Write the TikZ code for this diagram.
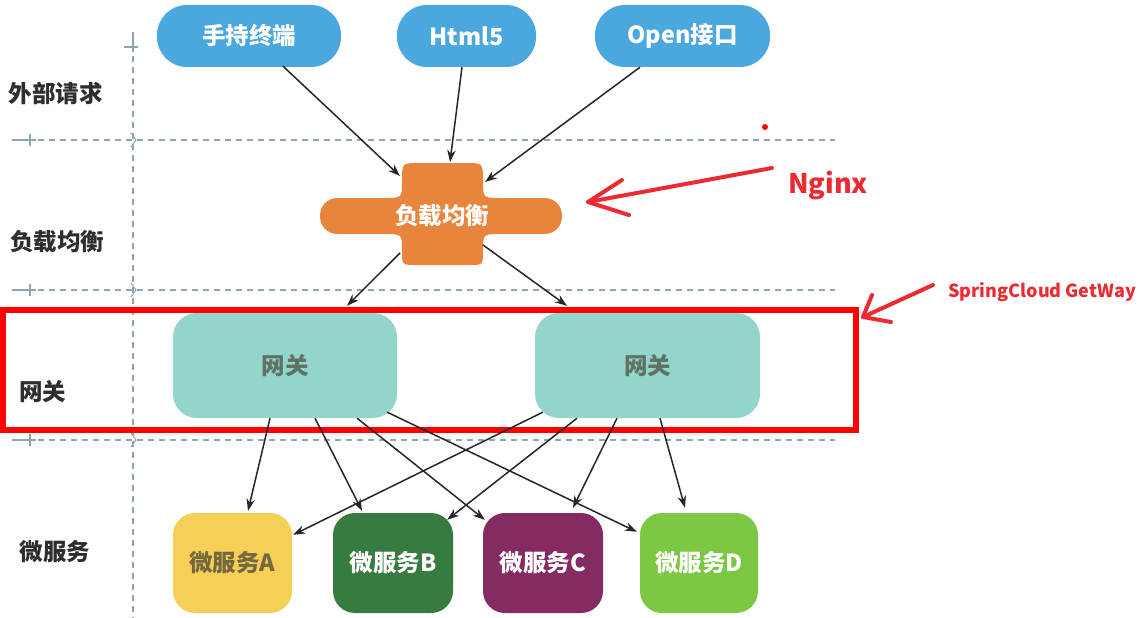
\documentclass[tikz,border=0pt]{standalone}
\usepackage{fontspec}
\setmainfont{Noto Sans CJK SC}
\usetikzlibrary{arrows.meta,calc}
\definecolor{pillblue}{HTML}{4AA8DE}
\definecolor{lborange}{HTML}{E8843C}
\definecolor{gwteal}{HTML}{93D5CA}
\definecolor{gwtext}{HTML}{5E7265}
\definecolor{msa}{HTML}{F6D056}
\definecolor{msatext}{HTML}{76683E}
\definecolor{msb}{HTML}{367B3F}
\definecolor{msc}{HTML}{852B63}
\definecolor{msd}{HTML}{7DC843}
\definecolor{dashgray}{HTML}{8FA5B4}
\definecolor{annred}{HTML}{EC2A32}
\definecolor{labeltext}{HTML}{2E2E2E}
\begin{document}
\begin{tikzpicture}[x=1pt,y=-1pt,
  txt/.style={font=\fontsize{23.5}{23.5}\selectfont\bfseries},
  pillbox/.style={txt, shape=rectangle, fill=pillblue, rounded corners=30pt, minimum height=62pt, inner sep=0pt, text=white},
  gwbox/.style={txt, shape=rectangle, fill=gwteal, rounded corners=24pt, minimum width=224pt, minimum height=105pt, inner sep=0pt, text=gwtext},
  msbox/.style={txt, shape=rectangle, rounded corners=22pt, minimum width=119pt, minimum height=100pt, inner sep=0pt, text=white},
  sidelabel/.style={txt, text=labeltext},
  arr/.style={-{Stealth[length=12pt,width=8.5pt]}, line width=1.5pt, draw=black!85},
  guide/.style={draw=dashgray, line width=1.4pt, dash pattern=on 6pt off 5pt},
  guidemark/.style={draw=dashgray, line width=1.6pt},
  annot/.style={draw=annred, line width=4pt, line cap=round, line join=round},
  frame/.style={draw=red, line width=5.5pt, outer sep=0pt, inner sep=0pt}
]
\useasboundingbox (0,0) rectangle (1143,618);
\fill[white] (0,0) rectangle (1143,618);

% guide lines
\draw[guide] (133,56) -- (133,618);
\draw[guidemark] (133,32) -- (133,52);
\draw[guidemark] (124,47) -- (138,47);
\foreach \yy in {140,290,440}{
  \draw[guide] (38,\yy) -- (835,\yy);
  \draw[guidemark] (12,\yy) -- (36,\yy);
  \draw[guidemark] (30,\yy-6) -- (30,\yy+6);
  \draw[draw=dashgray, line width=1pt] (131,\yy-7) -- (136,\yy) -- (131,\yy+7);
}

% side labels
\node[sidelabel] (l1) at (56,93) {外部请求};
\node[sidelabel] (l2) at (57,242) {负载均衡};
\node[sidelabel] (l3) at (43,392) {网关};
\node[sidelabel] (l4) at (55,552) {微服务};

% top nodes
\node[pillbox, minimum width=184pt] (hand) at (249,36) {手持终端};
\node[pillbox, minimum width=139pt] (h5) at (466.5,36) {Html5};
\node[pillbox, minimum width=175pt] (open) at (682.5,36) {Open接口};

% load balancer shape
\fill[lborange] (420,163) -- (465,163) .. controls (483,163) .. (483,181)
  .. controls (483,198) .. (500,198) -- (544,198)
  .. controls (568,198) and (568,234) .. (544,234)
  -- (500,234) .. controls (483,234) .. (483,251)
  .. controls (483,265) .. (469,265) -- (416,265)
  .. controls (402,265) .. (402,251)
  .. controls (402,234) .. (385,234) -- (338,234)
  .. controls (314,234) and (314,198) .. (338,198)
  -- (385,198) .. controls (402,198) .. (402,181)
  .. controls (402,163) .. (420,163) -- cycle;
\node[txt, text=white] (lb) at (442,216) {负载均衡};

% gateways
\node[gwbox] (gw1) at (285,365.5) {网关};
\node[gwbox, minimum width=225pt] (gw2) at (647.5,365.5) {网关};

% micro services
\node[msbox, fill=msa, text=msatext] (msA) at (232.5,563) {微服务A};
\node[msbox, fill=msb, minimum width=120pt] (msB) at (393,563) {微服务B};
\node[msbox, fill=msc, minimum width=120pt] (msC) at (543,563) {微服务C};
\node[msbox, fill=msd, minimum width=118pt] (msD) at (699,563) {微服务D};

% red frame
\node[frame, minimum width=853pt, minimum height=120pt] (gwframe) at (429.5,370) {};

% arrows top
\draw[arr] ($(hand.south)+(34,-1)$) -- ($(lb.center)+(-42,-40)$);
\draw[arr] ($(h5.south)+(-4.5,0)$) -- ($(lb.center)+(8,-54)$);
\draw[arr] ($(open.south)+(-42.5,0)$) -- ($(lb.center)+(43,-34)$);
\draw[arr] ($(lb.center)+(-42,37)$) -- ($(gw1.north)+(62,-7)$);
\draw[arr] ($(lb.center)+(41,29)$) -- ($(gw2.north)+(-80.5,-7)$);

% arrows bottom
\draw[arr] ($(gw1.south)+(-15,0)$) -- ($(msA.north)+(15.5,-2)$);
\draw[arr] ($(gw1.south)+(30,0)$) -- ($(msB.north)+(-31,-2)$);
\draw[arr] ($(gw1.south)+(72,0)$) -- ($(msC.north west)+(2,7)$);
\draw[arr] ($(gw1.south east)+(-10,-6)$) -- ($(msD.north west)+(-3,19)$);
\draw[arr] ($(gw2.south west)+(8,-6)$) -- ($(msA.north east)+(1,22)$);
\draw[arr] ($(gw2.south)+(-70.5,0)$) -- ($(msB.north east)+(-6,7)$);
\draw[arr] ($(gw2.south)+(-30.5,0)$) -- ($(msC.north)+(30,-5)$);
\draw[arr] ($(gw2.south)+(12.5,0)$) -- ($(msD.north)+(-14,-5)$);

% annotations
\node[font=\fontsize{27}{27}\selectfont\bfseries, text=annred] (nginx) at (828,186) {Nginx};
\coordinate (ntip) at ($(lb.center)+(146,-14)$);
\coordinate (nstart) at (772,168);
\draw[annot] (nstart) -- (ntip);
\draw[annot] ($(ntip)+(34,-22)$) -- (ntip) -- ($(ntip)+(41,13)$);

\node[font=\fontsize{18}{18}\selectfont\bfseries, text=annred] (scg) at (1042,292) {SpringCloud GetWay};
\coordinate (stip) at ($(gwframe.north east)+(7,7)$);
\coordinate (sstart) at (933,285);
\draw[annot] (sstart) -- (stip);
\draw[annot] ($(stip)+(9,-22)$) -- (stip) -- ($(stip)+(28,5)$);

\fill[red] (765,127) circle (3);
\end{tikzpicture}
\end{document}
